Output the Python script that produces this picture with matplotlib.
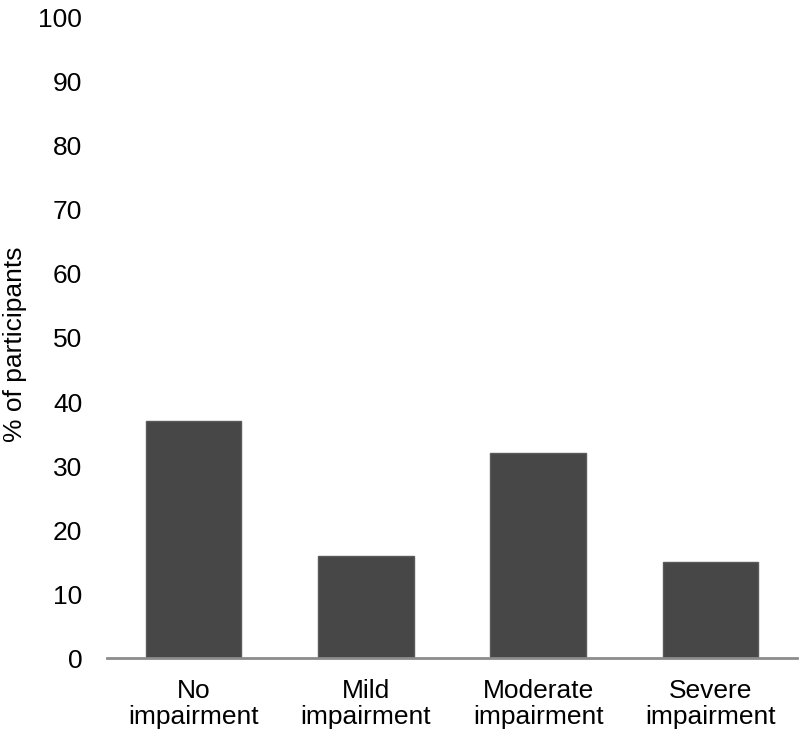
import matplotlib
matplotlib.use("Agg")
import matplotlib.pyplot as plt

# Data
categories = ["No\nimpairment", "Mild\nimpairment", "Moderate\nimpairment", "Severe\nimpairment"]
percent = [37, 16, 32, 15]
y_ticks = list(range(0, 101, 10))

plt.rcParams["font.family"] = ["Liberation Sans", "DejaVu Sans"]

fig = plt.figure(figsize=(8, 7.42), dpi=100)
ax = fig.add_axes([0.134, 0.113, 0.862, 0.863])

x = range(len(categories))
ax.bar(x, percent, width=0.555, color="#474747", edgecolor="#5a5a5a", linewidth=1.0, zorder=2)

ax.set_xlim(-0.5, len(categories) - 0.5)
ax.set_ylim(0, 100)
ax.set_yticks(y_ticks)
ax.set_xticks(list(x))
ax.set_xticklabels(categories, fontsize=19, linespacing=1.1)
ax.tick_params(axis="y", labelsize=19, length=0, pad=18)
ax.tick_params(axis="x", length=0, pad=15)
ax.set_ylabel("% of participants", fontsize=19)
ax.yaxis.set_label_coords(-0.116, 0.49)

for side in ["top", "right", "left"]:
    ax.spines[side].set_visible(False)
ax.spines["bottom"].set_color("#8c8c8c")
ax.spines["bottom"].set_linewidth(2)

fig.savefig("out.png", dpi=100)
